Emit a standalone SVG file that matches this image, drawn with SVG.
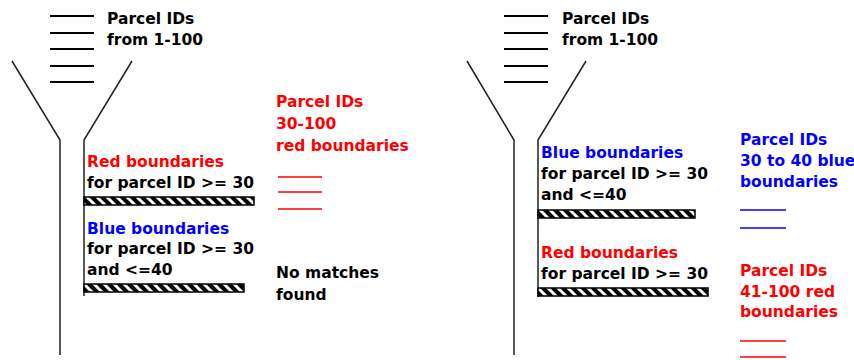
<svg xmlns="http://www.w3.org/2000/svg" width="854" height="360" viewBox="0 0 854 360">
<defs>
<pattern id="hatch" patternUnits="userSpaceOnUse" width="10" height="10">
<rect width="10" height="10" fill="#000"/>
<path d="M-2,-2 L12,12 M-2,8 L2,12 M8,-2 L12,2" stroke="#fff" stroke-width="3"/>
</pattern>
</defs>
<style>
text{font-family:"DejaVu Sans","Liberation Sans",Arial,sans-serif;font-weight:bold;font-size:15.5px;fill:#000}
.r{fill:#ff0000}.b{fill:#0000ff}
.h{stroke:#000;stroke-width:2}
.f{stroke:#222;stroke-width:1.5;fill:none}
.rl{stroke:#ff0000;stroke-width:1.5}
.bl{stroke:#0000ff;stroke-width:1.5}
.bar{fill:url(#hatch);stroke:#000;stroke-width:1.5}
</style>
<g id="input-left">
<line class="h" x1="50" y1="16" x2="94" y2="16"/>
<line class="h" x1="50" y1="33" x2="94" y2="33"/>
<line class="h" x1="50" y1="49" x2="94" y2="49"/>
<line class="h" x1="50" y1="66" x2="94" y2="66"/>
<line class="h" x1="50" y1="82" x2="94" y2="82"/>
<text x="107" y="24">Parcel IDs</text>
<text x="107" y="45">from 1-100</text>
</g>
<g id="funnel-left">
<polyline class="f" points="12,61 60,140 60,355"/>
<polyline class="f" points="132,61 84,140 84,296"/>
</g>
<g id="filter-left-red">
<text class="r" x="87" y="167">Red boundaries</text>
<text x="87" y="188">for parcel ID &gt;= 30</text>
<rect class="bar" x="84" y="197" width="170" height="8"/>
</g>
<g id="filter-left-blue">
<text class="b" x="87" y="234">Blue boundaries</text>
<text x="87" y="254">for parcel ID &gt;= 30</text>
<text x="87" y="275">and &lt;=40</text>
<rect class="bar" x="84" y="284" width="160" height="8"/>
</g>
<g id="output-left-red">
<text class="r" x="276" y="107">Parcel IDs</text>
<text class="r" x="276" y="129">30-100</text>
<text class="r" x="276" y="151">red boundaries</text>
<line class="rl" x1="278" y1="177" x2="322" y2="177"/>
<line class="rl" x1="278" y1="192" x2="322" y2="192"/>
<line class="rl" x1="278" y1="209" x2="322" y2="209"/>
</g>
<g id="output-left-none">
<text x="276" y="278">No matches</text>
<text x="276" y="300">found</text>
</g>
<g id="input-right">
<line class="h" x1="504" y1="16" x2="548" y2="16"/>
<line class="h" x1="504" y1="33" x2="548" y2="33"/>
<line class="h" x1="504" y1="49" x2="548" y2="49"/>
<line class="h" x1="504" y1="66" x2="548" y2="66"/>
<line class="h" x1="504" y1="82" x2="548" y2="82"/>
<text x="562" y="24">Parcel IDs</text>
<text x="562" y="45">from 1-100</text>
</g>
<g id="funnel-right">
<polyline class="f" points="467,61 514,140 514,355"/>
<polyline class="f" points="586,61 538,140 538,297"/>
</g>
<g id="filter-right-blue">
<text class="b" x="541" y="158">Blue boundaries</text>
<text x="541" y="179">for parcel ID &gt;= 30</text>
<text x="541" y="200">and &lt;=40</text>
<rect class="bar" x="538" y="210" width="157" height="8"/>
</g>
<g id="filter-right-red">
<text class="r" x="541" y="258">Red boundaries</text>
<text x="541" y="279">for parcel ID &gt;= 30</text>
<rect class="bar" x="538" y="288" width="170" height="8"/>
</g>
<g id="output-right-blue">
<text class="b" x="740" y="145">Parcel IDs</text>
<text class="b" x="740" y="166">30 to 40 blue</text>
<text class="b" x="740" y="187">boundaries</text>
<line class="bl" x1="740" y1="210" x2="786" y2="210"/>
<line class="bl" x1="740" y1="228" x2="786" y2="228"/>
</g>
<g id="output-right-red">
<text class="r" x="740" y="276">Parcel IDs</text>
<text class="r" x="740" y="297">41-100 red</text>
<text class="r" x="740" y="317">boundaries</text>
<line class="rl" x1="740" y1="341" x2="786" y2="341"/>
<line class="rl" x1="740" y1="357" x2="786" y2="357"/>
</g>
<g id="connectors"/>
</svg>
